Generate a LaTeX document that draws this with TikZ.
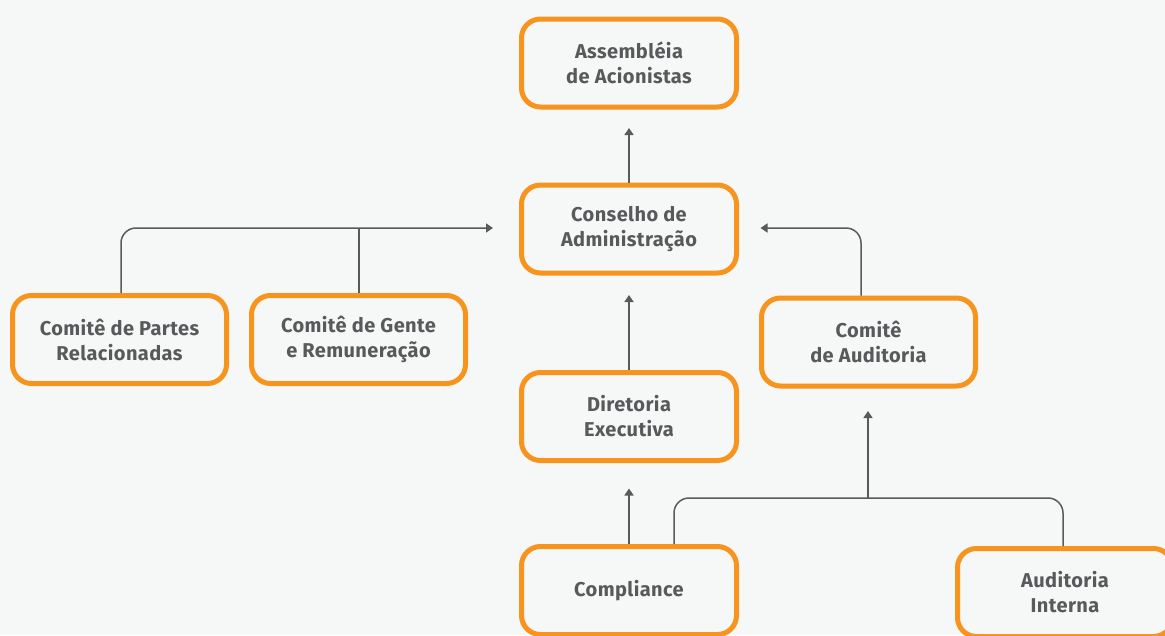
\documentclass[tikz,border=0pt]{standalone}
\usepackage{fontspec}
\setmainfont{Fira Sans}[LetterSpace=2]
\usetikzlibrary{arrows.meta,calc}
\definecolor{bg}{HTML}{F6F7F7}
\definecolor{org}{HTML}{F7941D}
\definecolor{txt}{HTML}{58595B}
\definecolor{ln}{HTML}{5A5A5A}
\begin{document}
\begin{tikzpicture}[x=1pt,y=-1pt,
  box/.style={draw=org, line width=5pt, rounded corners=19pt, minimum width=215pt, minimum height=88pt,
    text=txt, font=\bfseries\fontsize{20}{25}\selectfont, align=center, inner sep=0pt},
  conn/.style={draw=ln, line width=1.5pt},
  arr/.style={conn, -{Triangle[length=7pt,width=9pt]}}]
\fill[bg] (0,0) rectangle (1165,635);
\useasboundingbox (0,0) rectangle (1165,635);
\node[box] (assem) at (629,63) {Assembléia\\de Acionistas};
\node[box] (cons) at (629,229) {Conselho de\\Administração};
\node[box, minimum width=214pt] (partes) at (119.5,339.5) {Comitê de Partes\\Relacionadas};
\node[box, minimum width=214pt] (gente) at (358.5,339.5) {Comitê de Gente\\e Remuneração};
\node[box, minimum width=214pt] (audit) at (868.5,342) {Comitê\\de Auditoria};
\node[box] (dir) at (629,416.5) {Diretoria\\Executiva};
\node[box] (comp) at (629,590.5) {Compliance};
\node[box] (inter) at (1065,592.5) {Auditoria\\Interna};
\coordinate (bus) at (868,498);
% arrows
\draw[arr] (cons.north) -- ($(assem.south)+(0,18.5)$);
\draw[arr] (dir.north) -- ($(cons.south)+(0,19.5)$);
\draw[arr] (comp.north) -- ($(dir.south)+(0,25.5)$);
\draw[arr, rounded corners=15pt] ($(partes.north)+(1.5,0)$) |- ($(cons.west)+(-26,-1)$);
\draw[conn] ($(gente.north)+(0.5,0)$) -- ($(gente.north |- cons.west)+(0.5,-1)$);
\draw[arr, rounded corners=15pt] ($(audit.north)+(-7.5,0)$) |- ($(cons.east)+(21.5,-1)$);
\draw[conn, rounded corners=15pt] ($(comp.north)+(45,0)$) -- ($(comp.north |- bus)+(45,0)$) -- ($(inter.north |- bus)+(-2,0)$) -- ($(inter.north)+(-2,0)$);
\draw[arr] (bus) -- ($(audit.south)+(-0.5,22.5)$);
\end{tikzpicture}
\end{document}
